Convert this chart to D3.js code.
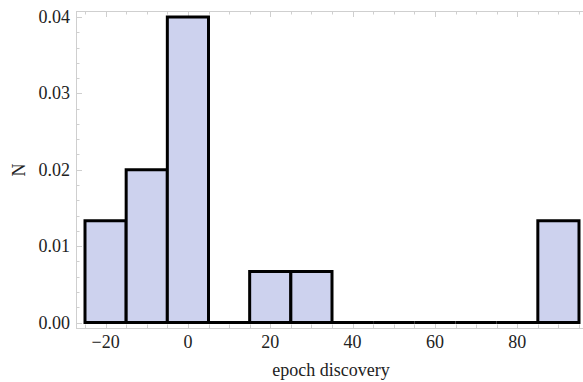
<!DOCTYPE html>
<html>
<head>
<meta charset="utf-8">
<script src="https://cdn.jsdelivr.net/npm/d3@7"></script>
<style>
  html, body { margin: 0; padding: 0; background: #fff; }
  svg { display: block; }
</style>
</head>
<body>
<svg id="chart" width="583" height="382"></svg>
<script>
// Histogram bins (left edge) and probability density per bin
const binStarts = [-25, -15, -5, 5, 15, 25, 35, 45, 55, 65, 75, 85];
const binWidth = 10;
const density = [0.01333, 0.02, 0.04, 0, 0.00667, 0.00667, 0, 0, 0, 0, 0, 0.01333];
const xTicks = [-20, 0, 20, 40, 60, 80];
const yTicks = [0.00, 0.01, 0.02, 0.03, 0.04];

const FONT = "'Liberation Serif', 'Times New Roman', 'DejaVu Serif', serif";
const svg = d3.select("#chart");

// Plot frame
const frame = { left: 76, top: 11, right: 589, bottom: 328 };

const x = d3.scaleLinear().domain([-25, 95]).range([85, 579]);
const y = d3.scaleLinear().domain([0, 0.04]).range([322.5, 17]);

const frameColor = "#cfcfcf";
const g = svg.append("g");

// Frame lines
g.append("rect")
  .attr("x", frame.left + 0.5).attr("y", frame.top + 0.5)
  .attr("width", frame.right - frame.left).attr("height", frame.bottom - frame.top)
  .attr("fill", "none").attr("stroke", frameColor).attr("stroke-width", 1);

// Minor / major ticks along x (bottom and top), pointing inward
d3.range(-25, 100, 5).forEach(v => {
  const major = v % 20 === 0;
  const len = major ? 6 : 3.5;
  const px = Math.round(x(v)) + 0.5;
  g.append("line").attr("x1", px).attr("x2", px)
    .attr("y1", frame.bottom).attr("y2", frame.bottom - len)
    .attr("stroke", frameColor);
  g.append("line").attr("x1", px).attr("x2", px)
    .attr("y1", frame.top).attr("y2", frame.top + len)
    .attr("stroke", frameColor);
});

// Ticks along y (left and right)
d3.range(0, 21).map(i => i * 0.002).forEach((v, i) => {
  const major = i % 5 === 0;
  const len = major ? 6 : 3.5;
  const py = Math.round(y(v)) + 0.5;
  g.append("line").attr("x1", frame.left).attr("x2", frame.left + len)
    .attr("y1", py).attr("y2", py).attr("stroke", frameColor);
  g.append("line").attr("x1", frame.right).attr("x2", frame.right - len)
    .attr("y1", py).attr("y2", py).attr("stroke", frameColor);
});

// Bars, drawn as closed paths so empty bins still show their baseline edge
const bars = binStarts.map((s, i) => ({ s, v: density[i] }));
g.selectAll("path.bar")
  .data(bars)
  .join("path")
  .attr("class", "bar")
  .attr("d", d => {
    const x0 = x(d.s), x1 = x(d.s + binWidth), y0 = y(0), y1 = y(d.v);
    return `M${x0},${y0}L${x0},${y1}L${x1},${y1}L${x1},${y0}Z`;
  })
  .attr("fill", "#cdd2ee")
  .attr("stroke", "#000")
  .attr("stroke-width", 3)
  .attr("stroke-linejoin", "miter");

// Tick labels
g.selectAll("text.xt")
  .data(xTicks)
  .join("text")
  .attr("class", "xt")
  .attr("x", d => x(d))
  .attr("y", 348)
  .attr("text-anchor", "middle")
  .attr("font-family", FONT)
  .attr("font-size", 18)
  .attr("fill", "#222")
  .text(d => d < 0 ? "\u2212" + Math.abs(d) : d);

g.selectAll("text.yt")
  .data(yTicks)
  .join("text")
  .attr("class", "yt")
  .attr("x", 70)
  .attr("y", d => y(d) + 6)
  .attr("text-anchor", "end")
  .attr("font-family", FONT)
  .attr("font-size", 18)
  .attr("fill", "#222")
  .text(d => d3.format(".2f")(d));

// Axis titles
g.append("text")
  .attr("x", 331).attr("y", 376)
  .attr("text-anchor", "middle")
  .attr("font-family", FONT)
  .attr("font-size", 18)
  .attr("fill", "#222")
  .text("epoch discovery");

g.append("text")
  .attr("transform", "translate(25,170) rotate(-90)")
  .attr("text-anchor", "middle")
  .attr("font-family", FONT)
  .attr("font-size", 18)
  .attr("fill", "#222")
  .text("N");
</script>
</body>
</html>
